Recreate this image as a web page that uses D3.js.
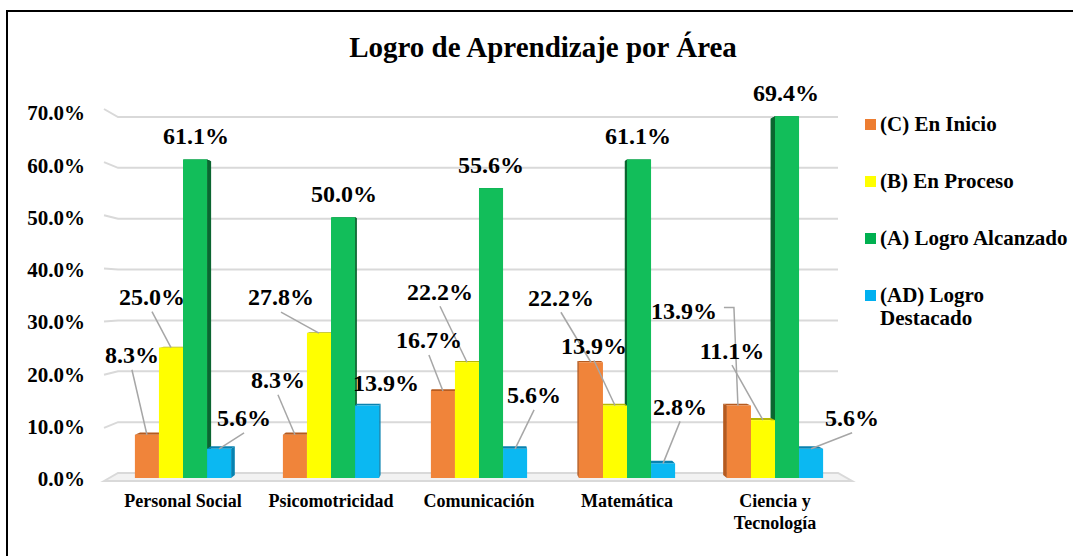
<!DOCTYPE html>
<html>
<head>
<meta charset="utf-8">
<script src="https://cdn.jsdelivr.net/npm/d3@7"></script>
<style>
  body { margin: 0; background: #fff; }
  svg text { font-weight: bold; fill: #000; }
</style>
</head>
<body>
<div id="chart"></div>
<script>
'use strict';

// datos del grafico
const categories = ['Personal Social', 'Psicomotricidad', 'Comunicación', 'Matemática', 'Ciencia y Tecnología'];
const seriesNames = ['(C) En Inicio', '(B) En Proceso', '(A) Logro Alcanzado', '(AD) Logro Destacado'];
const enInicio = [8.3, 8.3, 16.7, 22.2, 13.9];
const enProceso = [25.0, 27.8, 22.2, 13.9, 11.1];
const logroAlcanzado = [61.1, 50.0, 55.6, 61.1, 69.4];
const logroDestacado = [5.6, 13.9, 5.6, 2.8, 5.6];
const yTicks = [0, 10, 20, 30, 40, 50, 60, 70];
const title = 'Logro de Aprendizaje por Área';

const seriesValues = [enInicio, enProceso, logroAlcanzado, logroDestacado];
const colors = ['#F0843A', '#FFFF00', '#12BE5A', '#0BB8F2'];
const darkColors = ['#B55A1E', '#B8B800', '#0A6630', '#0882B0'];
const legendColors = ['#ED7D31', '#FFFF00', '#00B050', '#00B0F0'];
const FONT = '"Liberation Serif", Tinos, "Times New Roman", Times, "DejaVu Serif", serif';

// posicion de etiquetas (dx, dy desde el tope de la barra) y tipo de guia
// 'b' = linea desde abajo, 'e' = codo desde la derecha, null = sin linea
const labelLayout = [
  [[-15, -80, 'b'], [-19, -51, 'b'], [1, -24, null], [25, -31, 'b']],
  [[-17, -55, 'b'], [-38, -36, 'b'], [1, -24, null], [19, -23, null]],
  [[-14, -51, 'b'], [-27, -71, 'b'], [0, -23, null], [19, -54, 'b']],
  [[-30, -65, 'b'], [-21, -60, 'b'], [-1, -24, null], [17, -57, 'b']],
  [[-55, -95, 'e'], [-31, -70, 'b'], [-1, -24, null], [41, -31, 'b']]
];

function drawChart(elementID, width, height) {
  const svg = d3.select('#' + elementID)
    .append('svg')
    .attr('width', width)
    .attr('height', height)
    .attr('font-family', FONT)
    .style('font-family', FONT);

  // marco
  svg.append('path')
    .attr('d', `M7,${height + 5} L7,11 L${width + 5},11`)
    .attr('fill', 'none')
    .attr('stroke', '#000')
    .attr('stroke-width', 2);

  svg.append('text')
    .attr('x', 543)
    .attr('y', 57)
    .attr('text-anchor', 'middle')
    .style('font-size', '29px')
    .text(title);

  const x0 = d3.scaleBand()
    .domain(categories)
    .range([109, 849])
    .paddingInner(0.35)
    .paddingOuter(0.175);

  const x1 = d3.scaleBand()
    .domain(seriesNames)
    .range([0, x0.bandwidth()]);

  // pared del fondo, borde lateral y frente de las barras (efecto 3D)
  const yBack = d3.scaleLinear().domain([0, 70]).range([473, 117]);
  const ySide = d3.scaleLinear().domain([0, 70]).range([481, 109]);
  const yBar = d3.scaleLinear().domain([0, 70]).range([478, 113]);
  const yLabel = d3.scaleLinear().domain([0, 70]).range([479, 113]);

  const wallLeft = 118, wallRight = 838, frontLeft = 104, frontRight = 852;

  // suelo
  svg.append('path')
    .attr('d', `M${frontLeft},${ySide(0)} L${wallLeft},${yBack(0)} L${wallRight},${yBack(0)} L${frontRight},${ySide(0)} Z`)
    .attr('fill', '#F2F2F2')
    .attr('stroke', '#D9D9D9')
    .attr('stroke-width', 2);

  svg.selectAll('.grid')
    .data(yTicks.filter(d => d > 0))
    .enter()
    .append('path')
    .attr('class', 'grid')
    .attr('d', d => `M${frontLeft},${ySide(d)} L${wallLeft},${yBack(d)} L${wallRight},${yBack(d)}`)
    .attr('fill', 'none')
    .attr('stroke', '#D9D9D9')
    .attr('stroke-width', 2);

  svg.selectAll('.ytick')
    .data(yTicks)
    .enter()
    .append('text')
    .attr('class', 'ytick')
    .attr('x', 85)
    .attr('y', d => yLabel(d))
    .attr('dy', '0.35em')
    .attr('text-anchor', 'end')
    .style('font-size', '21px')
    .text(d => d3.format('.1f')(d) + '%');

  // barras
  const vx = 478, vy = 285, f = 0.015;
  const bars = [];
  categories.forEach((c, i) => {
    seriesNames.forEach((s, j) => {
      const v = seriesValues[j][i];
      const x = x0(c) + x1(s);
      bars.push({ i, j, v, x, w: x1.bandwidth(), top: yBar(v), bottom: yBar(0) });
    });
  });
  bars.sort((a, b) => Math.abs(b.x + b.w / 2 - vx) - Math.abs(a.x + a.w / 2 - vx));

  const recede = (px, py) => [px + f * (vx - px), py + f * (vy - py)];

  const barG = svg.selectAll('.bar')
    .data(bars)
    .enter()
    .append('g')
    .attr('class', 'bar');

  barG.append('path')
    .attr('d', d => {
      const ex = (d.x + d.w / 2 < vx) ? d.x + d.w : d.x;
      const a = recede(ex, d.top), b = recede(ex, d.bottom);
      return `M${ex},${d.top} L${a[0]},${a[1]} L${b[0]},${b[1]} L${ex},${d.bottom} Z`;
    })
    .attr('fill', d => darkColors[d.j]);

  barG.append('path')
    .attr('d', d => {
      const a = recede(d.x, d.top), b = recede(d.x + d.w, d.top);
      return `M${d.x},${d.top} L${d.x + d.w},${d.top} L${b[0]},${b[1]} L${a[0]},${a[1]} Z`;
    })
    .attr('fill', d => darkColors[d.j]);

  barG.append('rect')
    .attr('x', d => d.x)
    .attr('y', d => d.top)
    .attr('width', d => d.w)
    .attr('height', d => d.bottom - d.top)
    .attr('fill', d => colors[d.j]);

  // etiquetas de datos con lineas guia
  const labels = bars.map(d => {
    const lay = labelLayout[d.i][d.j];
    const cx = d.x + d.w / 2;
    return { cx, top: d.top, lx: cx + lay[0], ly: d.top + lay[1], kind: lay[2], v: d.v };
  });

  svg.selectAll('.leader')
    .data(labels.filter(d => d.kind))
    .enter()
    .append('path')
    .attr('class', 'leader')
    .attr('d', d => {
      if (d.kind === 'e') {
        return `M${d.lx + 40},${d.ly - 3} L${d.cx - 5},${d.ly - 3} L${d.cx - 1},${d.top}`;
      }
      return `M${d.lx},${d.ly + 15} L${d.cx},${d.top}`;
    })
    .attr('fill', 'none')
    .attr('stroke', '#A6A6A6')
    .attr('stroke-width', 1.5);

  svg.selectAll('.dlabel')
    .data(labels)
    .enter()
    .append('text')
    .attr('class', 'dlabel')
    .attr('x', d => d.lx)
    .attr('y', d => d.ly)
    .attr('dy', '0.35em')
    .attr('text-anchor', 'middle')
    .style('font-size', '24px')
    .text(d => d3.format('.1f')(d.v) + '%');

  // etiquetas de categorias
  const catText = svg.selectAll('.cat')
    .data(categories)
    .enter()
    .append('text')
    .attr('class', 'cat')
    .attr('text-anchor', 'middle')
    .style('font-size', '18px');
  catText.each(function (c) {
    wrap(d3.select(this), c, x0(c) + x0.bandwidth() / 2, 507, 135, 22);
  });

  // leyenda
  const legend = svg.selectAll('.legend')
    .data(seriesNames)
    .enter()
    .append('g')
    .attr('class', 'legend')
    .attr('transform', (d, j) => `translate(865,${131 + j * 57})`);

  legend.append('rect')
    .attr('x', 0)
    .attr('y', -12)
    .attr('width', 11)
    .attr('height', 11)
    .attr('fill', (d, j) => legendColors[j]);

  legend.append('text')
    .style('font-size', '21px')
    .each(function (d) {
      wrap(d3.select(this), d, 15, 0, 195, 23, 'start');
    });
}

function wrap(textSel, str, x, y, maxWidth, lineHeight, anchor) {
  const words = str.split(' ');
  let line = [];
  let lineNo = 0;
  let tspan = textSel.append('tspan').attr('x', x).attr('y', y);
  if (anchor) textSel.attr('text-anchor', anchor);
  words.forEach(w => {
    line.push(w);
    tspan.text(line.join(' '));
    if (tspan.node().getComputedTextLength() > maxWidth && line.length > 1) {
      line.pop();
      tspan.text(line.join(' '));
      line = [w];
      lineNo++;
      tspan = textSel.append('tspan').attr('x', x).attr('y', y + lineNo * lineHeight).text(w);
    }
  });
}

drawChart('chart', 1073, 556);
</script>
</body>
</html>
